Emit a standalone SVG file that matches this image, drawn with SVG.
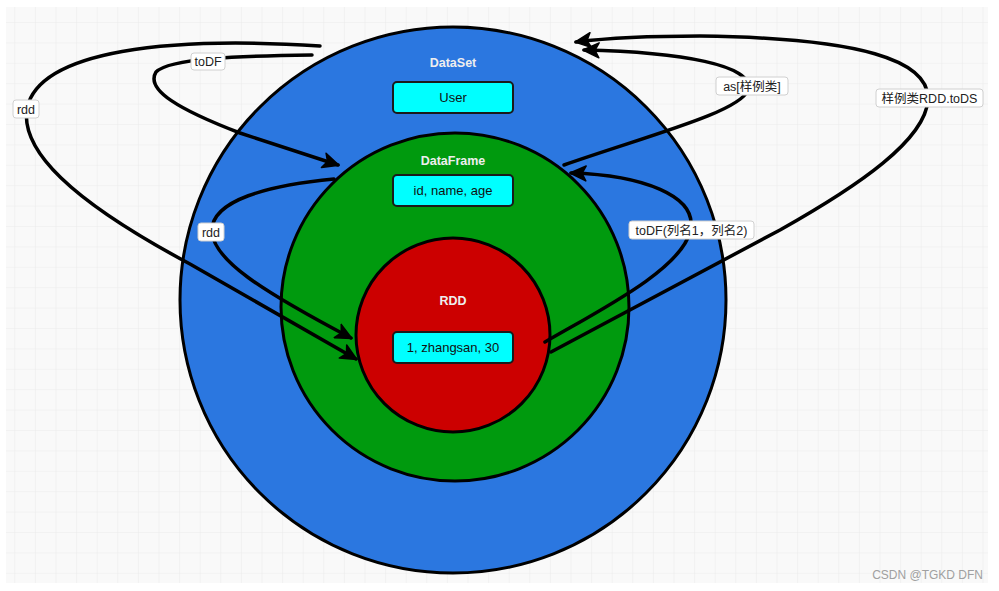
<svg xmlns="http://www.w3.org/2000/svg" width="999" height="591" viewBox="0 0 999 591">
<defs>
<pattern id="grid" patternUnits="userSpaceOnUse" x="14.3" y="1.6" width="20.6" height="20.4">
<rect width="20.6" height="20.4" fill="#f9f9f9"/>
<path d="M0 0 H20.6 M0 0 V20.4" stroke="#ebebeb" stroke-width="1" fill="none"/>
</pattern>
<marker id="arr" markerUnits="userSpaceOnUse" markerWidth="19" markerHeight="17" refX="16" refY="8.5" orient="auto" viewBox="0 0 19 17">
<path d="M1 1 L17 8.5 L1 16 L5 8.5 Z" fill="#000" stroke="#000" stroke-width="1.5" stroke-linejoin="round"/>
</marker>
<style>
.ring{stroke:#000;stroke-width:3}
.box{fill:#00ffff;stroke:#1a1a1a;stroke-width:2}
.btxt{font-family:"Liberation Sans","Noto Sans",sans-serif;font-size:13px;fill:#111;text-anchor:middle}
.title{font-family:"Liberation Sans","Noto Sans",sans-serif;font-size:12.5px;font-weight:bold;fill:#eeeeee;text-anchor:middle}
.conn{fill:none;stroke:#000;stroke-width:3.5;stroke-linecap:round;marker-end:url(#arr)}
.lbl{fill:#ffffff;stroke:#d0d0d0;stroke-width:1}
.ltxt{font-family:"Liberation Sans","Noto Sans CJK SC",sans-serif;font-size:12.5px;fill:#222;text-anchor:middle}
</style>
</defs>
<rect width="999" height="591" fill="#ffffff"/>
<rect x="6" y="7" width="982" height="576" fill="url(#grid)"/>

<g id="dataset">
<circle class="ring" cx="453" cy="300" r="273" fill="#2b77e0"/>
<text class="title" x="453" y="67">DataSet</text>
<rect class="box" x="393" y="82" width="120" height="31" rx="4"/>
<text class="btxt" x="453" y="102">User</text>
</g>
<g id="dataframe">
<circle class="ring" cx="455" cy="307" r="174" fill="#009a0e"/>
<text class="title" x="453" y="165">DataFrame</text>
<rect class="box" x="393" y="175" width="120" height="31" rx="4"/>
<text class="btxt" x="453" y="195">id, name, age</text>
</g>
<g id="rdd">
<circle class="ring" cx="453" cy="335" r="97" fill="#cc0000"/>
<text class="title" x="453" y="305">RDD</text>
<rect class="box" x="393" y="332" width="120" height="31" rx="4"/>
<text class="btxt" x="453" y="352">1, zhangsan, 30</text>
</g>

<g id="connectors">
<path class="conn" d="M320 46 C170 36, 40 50, 27 108 C20 150, 70 200, 190 264 L356 359"/>
<path class="conn" d="M312 55 C240 56, 170 58, 156 72 C145 90, 180 110, 240 133 L338 165"/>
<path class="conn" d="M334 179 C270 185, 210 200, 212 232 C214 260, 260 290, 351 338"/>
<path class="conn" d="M564 165 C650 135, 740 112, 748 90 C755 65, 680 52, 584 50"/>
<path class="conn" d="M551 352 L780 230 C860 185, 925 140, 928 100 C930 60, 860 38, 700 36 C640 36, 600 39, 576 42"/>
<path class="conn" d="M545 342 C600 310, 680 270, 690 232 C700 195, 640 175, 571 173"/>
</g>

<g id="labels">
<rect class="lbl" x="13" y="100" width="26" height="18" rx="3"/>
<text class="ltxt" x="26" y="113.5">rdd</text>
<rect class="lbl" x="191" y="53" width="34" height="17" rx="3"/>
<text class="ltxt" x="208" y="66">toDF</text>
<rect class="lbl" x="198" y="223" width="26" height="18" rx="3"/>
<text class="ltxt" x="211" y="236.5">rdd</text>
<rect class="lbl" x="716" y="77" width="72" height="18" rx="3"/>
<text class="ltxt" x="752" y="90.5">as[样例类]</text>
<rect class="lbl" x="876" y="89" width="107" height="18" rx="3"/>
<text class="ltxt" x="929.5" y="102.5">样例类RDD.toDS</text>
<rect class="lbl" x="629" y="221" width="125" height="18" rx="3"/>
<text class="ltxt" x="691.5" y="234.5">toDF(列名1，列名2)</text>
</g>

<text x="983" y="579" font-family="Liberation Sans, sans-serif" font-size="12" fill="#a0a0a0" text-anchor="end">CSDN @TGKD DFN</text>
</svg>
